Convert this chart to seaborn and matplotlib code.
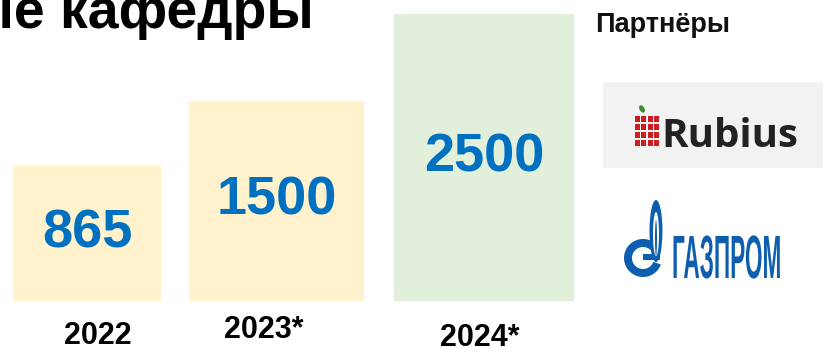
import numpy as np
import pandas as pd
import matplotlib
matplotlib.use("Agg")
import matplotlib.pyplot as plt
import seaborn as sns
from matplotlib.patches import Rectangle, Wedge, Ellipse
from matplotlib.patheffects import AbstractPathEffect
from matplotlib.transforms import Affine2D

# ---------------- data ----------------
YEARS = ["2022", "2023*", "2024*"]
VALUES = [865, 1500, 2500]
BAR_COLORS = ["#FFF2CC", "#FFF2CC", "#E2EFDA"]
TITLE = "ные кафедры"
PARTNERS_TITLE = "Партнёры"
PARTNERS = ["Rubius", "ГАЗПРОМ"]

# ---------------- layout (pixels) ----------------
W, H = 823, 348
BAR_LEFT = [13, 189, 394]
BAR_WIDTH = [148, 175, 180]
BASE_Y = 300.5
YEAR_X = [98, 264, 480]
YEAR_Y = [344, 338, 346]
POWER = 0.71
YMAX = 2670

sns.set_theme(style="white")
plt.rcParams["font.family"] = ["Liberation Sans", "DejaVu Sans"]

fig = plt.figure(figsize=(W / 100, H / 100), dpi=100)
fig.patch.set_facecolor("white")

# bar axes
ax = fig.add_axes([0, (H - BASE_Y) / H, 600 / W, BASE_Y / H])
df = pd.DataFrame({"year": YEARS, "value": VALUES})
sns.barplot(data=df, x="year", y="value", hue="year", palette=BAR_COLORS,
            saturation=1, linewidth=0, legend=False, ax=ax)
ax.set_yscale("function", functions=(lambda v: np.sign(v) * np.abs(v) ** POWER,
                                     lambda v: np.sign(v) * np.abs(v) ** (1 / POWER)))
ax.set_ylim(0, YMAX)
bars = [p for p in ax.patches]
for p, left, w in zip(bars, BAR_LEFT, BAR_WIDTH):
    p.set_x(left)
    p.set_width(w)
ax.set_xlim(0, 600)
ax.axis("off")

for cont, val in zip(ax.containers, VALUES):
    ax.bar_label(cont, labels=[str(val)], label_type="center",
                 color="#0070C0", fontsize=39, fontweight="bold")

# overlay axes in pixel coordinates
ov = fig.add_axes([0, 0, 1, 1], zorder=5)
ov.set_xlim(0, W)
ov.set_ylim(H, 0)
ov.axis("off")
ov.patch.set_alpha(0)

ov.text(314, 28, TITLE, ha="right", va="baseline", fontsize=40,
        fontweight="bold", color="black")
ov.text(595, 32, PARTNERS_TITLE, ha="left", va="baseline", fontsize=19.5,
        fontweight="bold", color="#111111")

for yr, x, y in zip(YEARS, YEAR_X, YEAR_Y):
    ov.text(x, y, yr, ha="center", va="baseline", fontsize=22,
            fontweight="bold", color="black")

# --- Rubius logo ---
ov.add_patch(Rectangle((603, 82), 230, 86, facecolor="#F2F2F2", edgecolor="none"))
gx0, gy0, cw, chh = 634, 115, 6.5, 8.0
for i in range(4):
    for j in range(4):
        ov.add_patch(Rectangle((gx0 + i * cw + 0.6, gy0 + j * chh + 0.6), cw - 1.2, chh - 1.2,
                               facecolor="#C81E24", edgecolor="none"))
ov.add_patch(Ellipse((642, 109), 5, 8, angle=-30, facecolor="#3A8F2E", edgecolor="none"))
ov.text(661, 147, PARTNERS[0], ha="left", va="baseline", fontsize=29,
        fontweight="bold", color="#222222", family=["Open Sans", "Liberation Sans"])


# --- Gazprom logo ---
class Squash(AbstractPathEffect):
    def __init__(self, sx):
        super().__init__()
        self.sx = sx

    def draw_path(self, renderer, gc, tpath, affine, rgbFace=None):
        renderer.draw_path(gc, tpath, Affine2D().scale(self.sx, 1) + affine, rgbFace)


GBLUE = "#0D5EAF"
ov.add_patch(Wedge((643, 258), 19, 20, 330, width=8, facecolor=GBLUE, edgecolor="none"))
ov.add_patch(Rectangle((643, 254), 17, 6, facecolor=GBLUE, edgecolor="none"))
ov.add_patch(Ellipse((656, 231), 13, 62, facecolor=GBLUE, edgecolor="none"))
ov.add_patch(Ellipse((656, 234), 6, 44, facecolor="white", edgecolor="none"))
ov.add_patch(Ellipse((656, 238), 2, 36, facecolor=GBLUE, edgecolor="none"))
ov.text(672, 278, PARTNERS[1], ha="left", va="baseline", fontsize=44,
        fontweight="bold", color=GBLUE, path_effects=[Squash(0.37)])

fig.savefig("out.png", dpi=100, facecolor="white")
